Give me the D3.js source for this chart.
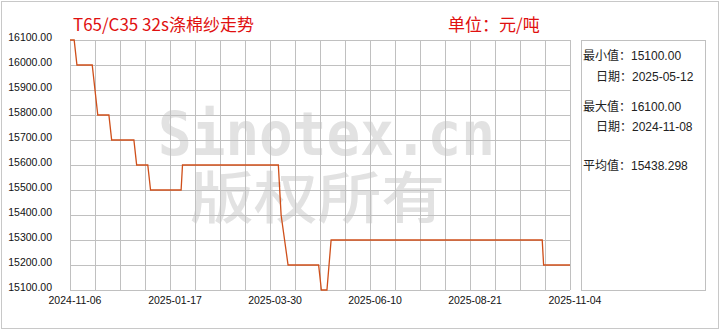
<!doctype html>
<html lang="zh">
<head>
  <meta charset="utf-8">
  <title>T65/C35 32s涤棉纱走势</title>
  <style>
    html, body { margin: 0; padding: 0; background: #fff; }
    svg { display: block; font-family: "Liberation Sans", "Noto Sans CJK SC", sans-serif; }
  </style>
</head>
<body>
  <div id="chart"></div>
  <script src="https://d3js.org/d3.v7.min.js"></script>
  <script>
    // price change points (date, 元/吨)
    const dates = [
      "2024-11-02", "2024-11-05", "2024-11-07", "2024-11-18", "2024-11-22",
      "2024-11-30", "2024-12-02", "2024-12-18", "2024-12-20", "2024-12-28",
      "2024-12-30", "2025-01-21", "2025-01-22", "2025-04-01", "2025-04-03",
      "2025-04-08", "2025-04-30", "2025-05-02", "2025-05-06", "2025-05-09",
      "2025-10-08", "2025-10-09", "2025-10-28"
    ];
    const prices = [
      16100, 16100, 16000, 16000, 15800,
      15800, 15700, 15700, 15600, 15600,
      15500, 15500, 15600, 15600, 15400,
      15200, 15200, 15100, 15100, 15300,
      15300, 15200, 15200
    ];
    const xTickLabels = ["2024-11-06", "2025-01-17", "2025-03-30", "2025-06-10", "2025-08-21", "2025-11-04"];
    const yTicks = [15100, 15200, 15300, 15400, 15500, 15600, 15700, 15800, 15900, 16000, 16100];
    const stats = [
      ["最小值：", "15100.00"],
      ["日期：", "2025-05-12"],
      ["最大值：", "16100.00"],
      ["日期：", "2024-11-08"],
      ["平均值：", "15438.298"]
    ];

    const W = 720, H = 330;
    const pL = 70, pR = 570, pT = 40, pB = 290;
    const parse = d3.timeParse("%Y-%m-%d");
    const data = dates.map((d, i) => ({ date: parse(d), value: prices[i] }));

    const svg = d3.select("#chart").append("svg")
      .attr("width", W).attr("height", H);

    // outer frame
    svg.append("rect")
      .attr("x", 1.5).attr("y", 1.5).attr("width", W - 3).attr("height", H - 3)
      .attr("fill", "#fff").attr("stroke", "#c8c8c8");

    const x = d3.scaleTime()
      .domain(d3.extent(data, d => d.date))
      .range([pL, pR]);
    const y = d3.scaleLinear()
      .domain([15100, 16100])
      .range([pB, pT]);
    const xLab = d3.scalePoint().domain(xTickLabels).range([75, 575]);

    // watermark
    svg.append("text")
      .attr("x", 158).attr("y", 155)
      .attr("textLength", 337).attr("lengthAdjust", "spacingAndGlyphs")
      .attr("font-family", "DejaVu Sans Mono")
      .attr("font-weight", "bold").attr("font-size", 60)
      .attr("fill", "#e2e2e2")
      .text("Sinotex.cn");
    svg.append("text")
      .attr("x", 190).attr("y", 218)
      .attr("textLength", 255).attr("lengthAdjust", "spacingAndGlyphs")
      .attr("font-family", "Noto Sans CJK SC")
      .attr("font-weight", 500).attr("font-size", 56)
      .attr("fill", "#e2e2e2")
      .text("版权所有");

    // grid: 20 columns, one line per y tick
    const grid = svg.append("g").attr("stroke", "#c0c0c0").attr("stroke-width", 1);
    grid.selectAll("line.v")
      .data(d3.range(0, 21))
      .join("line")
      .attr("class", "v")
      .attr("x1", i => Math.round(pL + i * (pR - pL) / 20) + 0.5)
      .attr("x2", i => Math.round(pL + i * (pR - pL) / 20) + 0.5)
      .attr("y1", pT).attr("y2", pB);
    grid.selectAll("line.h")
      .data(yTicks)
      .join("line")
      .attr("class", "h")
      .attr("x1", pL).attr("x2", pR)
      .attr("y1", d => Math.round(y(d)) + 0.5)
      .attr("y2", d => Math.round(y(d)) + 0.5);

    // y labels
    svg.append("g").selectAll("text")
      .data(yTicks)
      .join("text")
      .attr("x", 52).attr("y", d => y(d) + 1)
      .attr("text-anchor", "end")
      .attr("font-size", 10.5).attr("fill", "#111")
      .text(d3.format(".2f"));

    // x labels
    svg.append("g").selectAll("text")
      .data(xTickLabels)
      .join("text")
      .attr("x", d => xLab(d)).attr("y", 304)
      .attr("text-anchor", "middle")
      .attr("font-size", 10.5).attr("fill", "#111")
      .text(d => d);

    // price line
    svg.append("path")
      .datum(data)
      .attr("fill", "none")
      .attr("stroke", "#cf4f1a")
      .attr("stroke-width", 1.3)
      .attr("d", d3.line().x(d => x(d.date)).y(d => y(d.value)));

    // title
    svg.append("text")
      .attr("x", 73).attr("y", 31)
      .attr("font-family", "Noto Sans CJK SC, Liberation Sans")
      .attr("font-size", 17).attr("fill", "#e01010")
      .text("T65/C35 32s涤棉纱走势");
    svg.append("text")
      .attr("x", 448).attr("y", 31)
      .attr("font-family", "Noto Sans CJK SC")
      .attr("font-size", 17).attr("fill", "#e01010")
      .text("单位：元/吨");

    // stats box
    svg.append("rect")
      .attr("x", 581.5).attr("y", 40.5).attr("width", 124).attr("height", 250)
      .attr("fill", "none").attr("stroke", "#c0c0c0");
    const statX = [583, 596, 583, 596, 583];
    const statY = [60, 81, 111, 131, 170];
    svg.append("g").selectAll("text")
      .data(stats)
      .join("text")
      .attr("x", (d, i) => statX[i]).attr("y", (d, i) => statY[i])
      .attr("font-size", 12).attr("fill", "#222")
      .text(d => d[0] + d[1]);
  </script>
</body>
</html>
